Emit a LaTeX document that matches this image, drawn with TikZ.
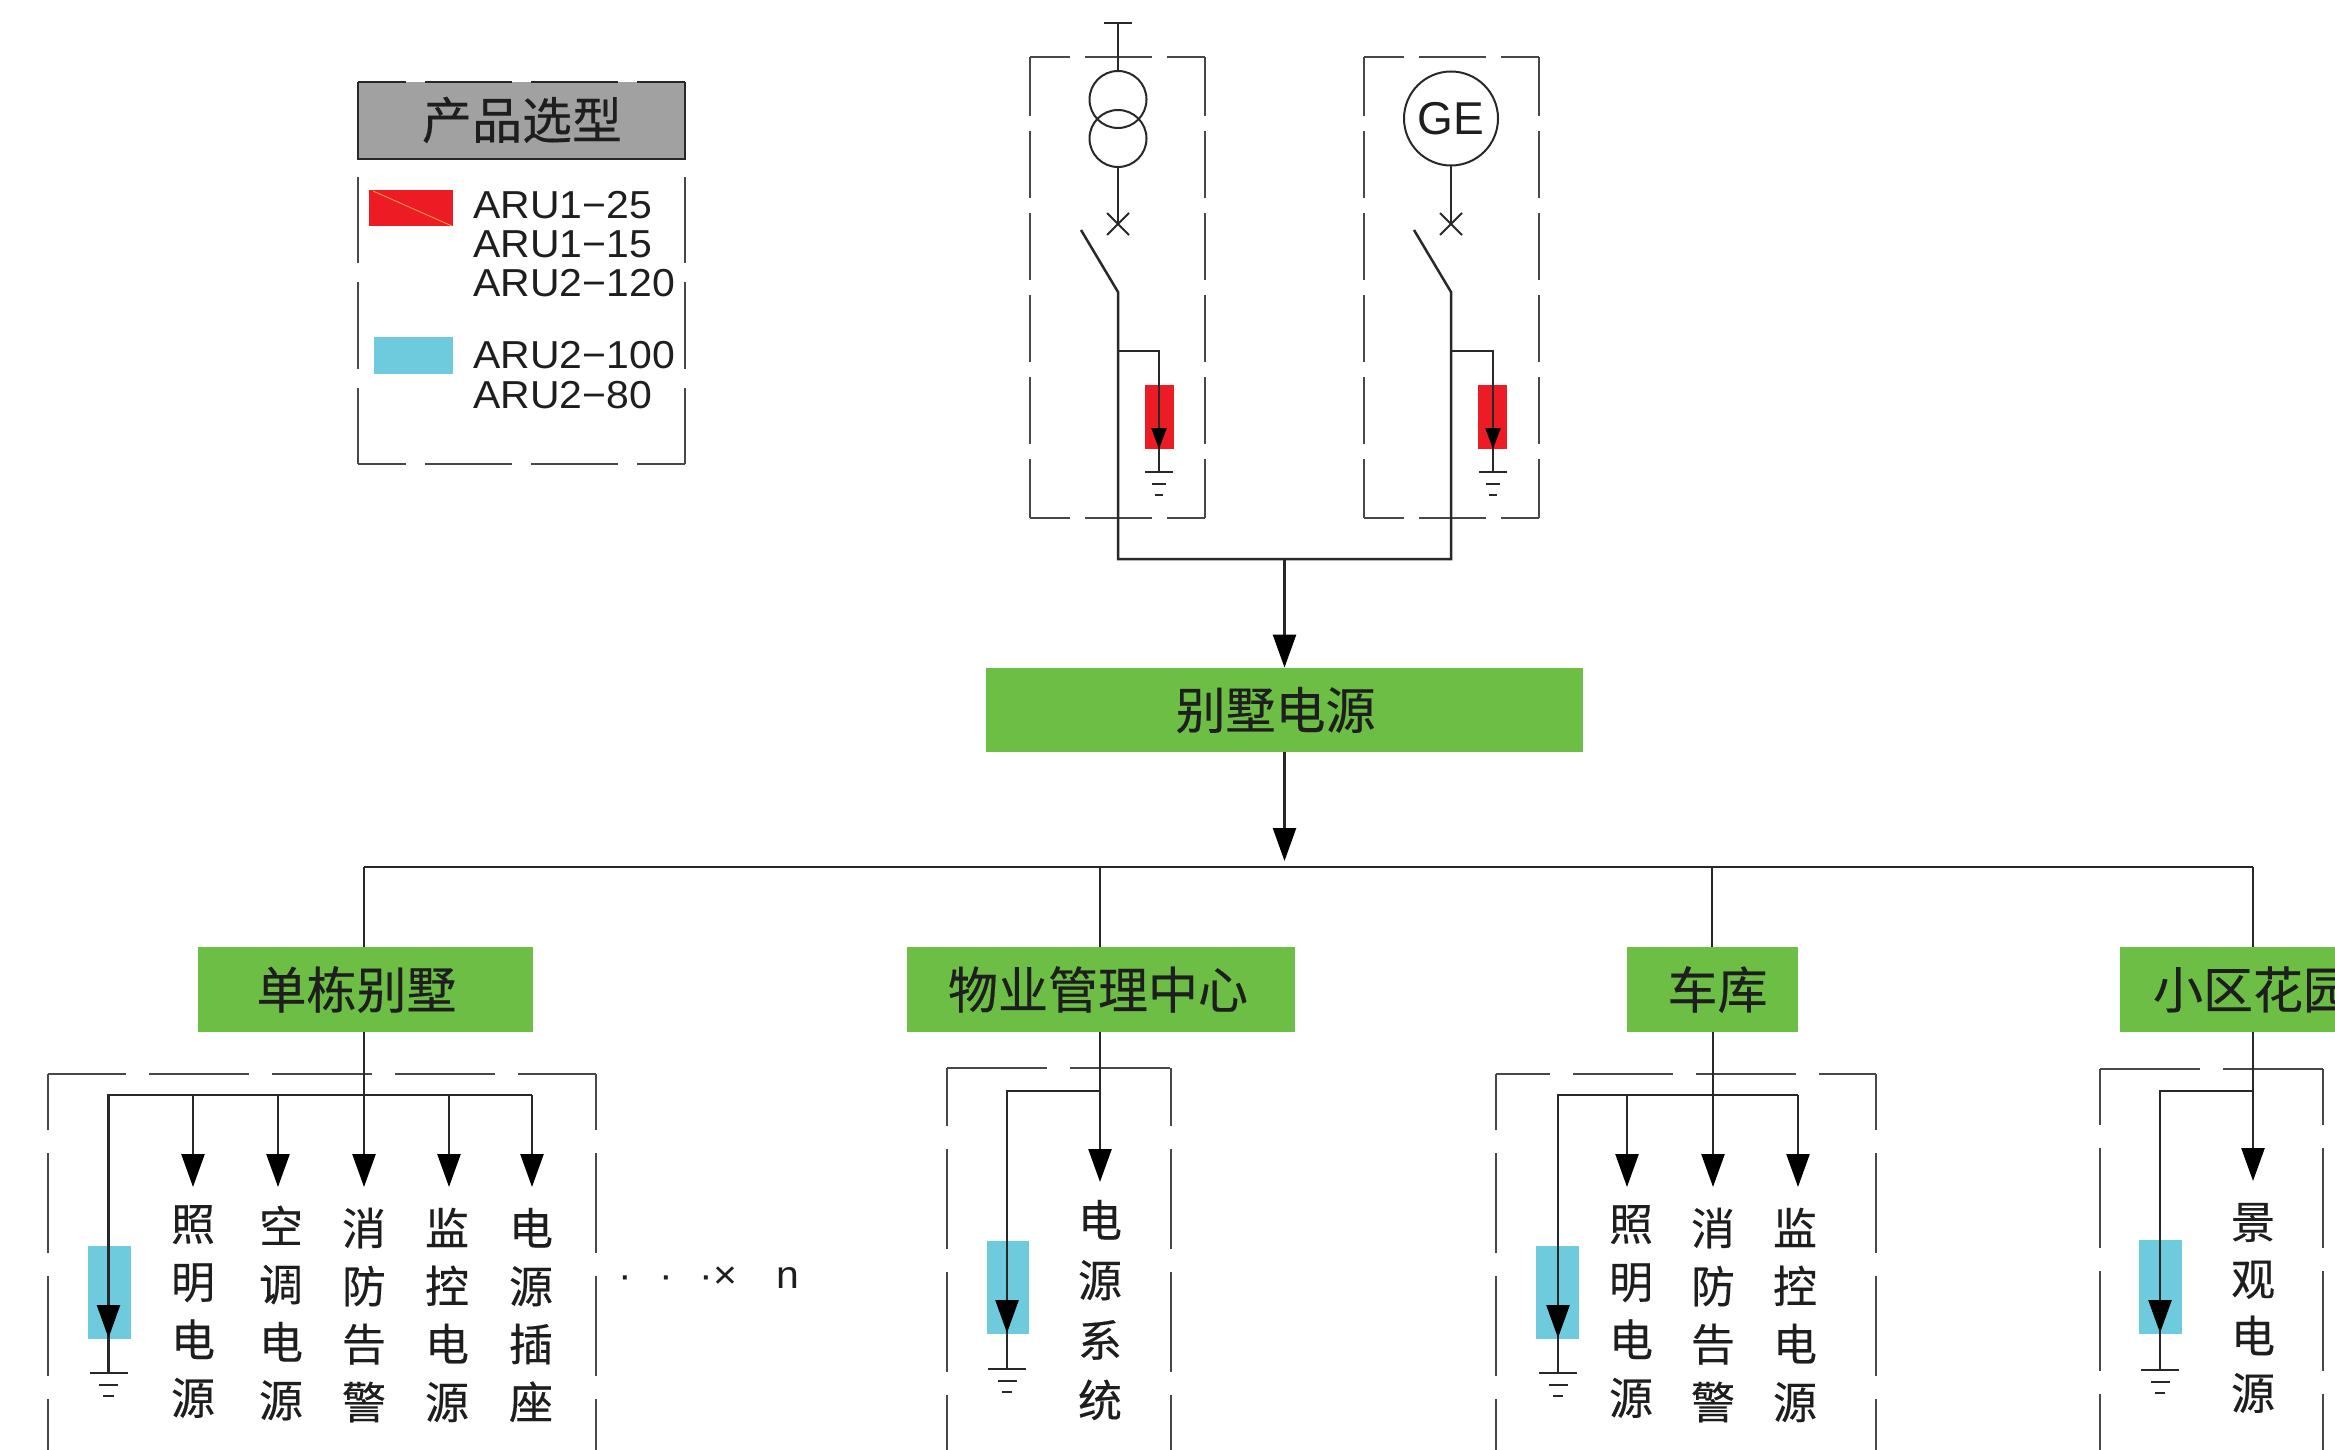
\documentclass[tikz,border=0pt]{standalone}
\usepackage{fontspec}
\usetikzlibrary{arrows.meta}
\newfontfamily\cjkf[FakeBold=0.35]{Noto Sans CJK SC}
\newfontfamily\latf[FakeStretch=1.05]{Liberation Sans}
\newfontfamily\gef{Liberation Sans}
\definecolor{grn}{RGB}{108,190,69}
\definecolor{redc}{RGB}{237,28,36}
\definecolor{bluc}{RGB}{109,203,221}
\definecolor{lin}{RGB}{40,40,40}
\definecolor{txt}{RGB}{30,30,30}
\tikzset{
  wire/.style={draw=lin,line width=1.25pt},
  wirea/.style={wire,-{Triangle[length=16.5pt,width=11.5pt,color=black]}},
  wiresm/.style={wire,-{Triangle[length=10.5pt,width=7.5pt,color=black]}},
  dashl/.style={draw=lin!85,line width=1pt},
  greenbox/.style={fill=grn,inner sep=0pt,font=\cjkf\fontsize{25pt}{25pt}\selectfont,text=txt},
  colt/.style={align=center,inner sep=0pt,text=txt,font=\cjkf\fontsize{22pt}{29pt}\selectfont},
  legt/.style={anchor=base west,inner sep=0pt,text=txt,font=\latf\fontsize{19.5pt}{20pt}\selectfont},
  ring/.style={draw=lin,circle,line width=1pt,inner sep=0pt},
  gbar/.style={draw=lin,line width=1pt},
}
% left,right,top,bottom,phase top,phase side: open dashed frame
\newcommand{\dframe}[6]{%
  \draw[dashl,dash pattern=on 50pt off 11.5pt,dash phase=#5pt] (#1,#3) -- (#2,#3);
  \draw[dashl,dash pattern=on 50pt off 11.5pt,dash phase=#6pt] (#1,#3) -- (#1,#4);
  \draw[dashl,dash pattern=on 50pt off 11.5pt,dash phase=#6pt] (#2,#3) -- (#2,#4);
}
% left,right: closed dashed panel at the top
\newcommand{\panelframe}[2]{%
  \draw[dashl,line width=1.2pt,dash pattern=on 33.5pt off 7.5pt,dash phase=13.5pt] (#1,57) -- (#2,57);
  \draw[dashl,line width=1.2pt,dash pattern=on 33.5pt off 7.5pt,dash phase=13.5pt] (#1,518) -- (#2,518);
  \draw[dashl,line width=1.2pt,dash pattern=on 33.5pt off 7.5pt,dash phase=4pt] (#1,57) -- (#1,518);
  \draw[dashl,line width=1.2pt,dash pattern=on 33.5pt off 7.5pt,dash phase=4pt] (#2,57) -- (#2,518);
}
% x, y, half width of top bar
\newcommand{\gndsym}[3]{%
  \draw[gbar] ({#1-#3},#2) -- ({#1+#3},#2);
  \draw[gbar] ({#1-0.5*#3},{#2+12}) -- ({#1+0.5*#3},{#2+12});
  \draw[gbar] ({#1-0.27*#3},{#2+23}) -- ({#1+0.27*#3},{#2+23});
}
\begin{document}
\begin{tikzpicture}[x=0.5pt,y=-0.5pt]
\useasboundingbox (0,0) rectangle (2335,1450);
\clip (0,0) rectangle (2335,1450);

% legend
\fill[black!37] (358,82) rectangle (685,159);
\draw[lin,line width=1.1pt] (358,82) -- (358,159) -- (685,159) -- (685,82);
\draw[lin,line width=1pt,dash pattern=on 43.5pt off 9.5pt,dash phase=19.5pt] (358,82) -- (685,82);
\node[inner sep=0pt,text=txt,font=\cjkf\fontsize{25pt}{25pt}\selectfont] (legtitle) at (522,120) {产品选型};
\draw[dashl,dash pattern=on 43.5pt off 9.5pt,dash phase=0.5pt] (358,177) -- (358,464);
\draw[dashl,dash pattern=on 43.5pt off 9.5pt,dash phase=0.5pt] (685,177) -- (685,464);
\draw[dashl,dash pattern=on 43.5pt off 9.5pt,dash phase=19.5pt] (358,464) -- (685,464);
\fill[redc] (369,190) rectangle (453,226);
\draw[orange!70!white,line width=0.4pt] (373,191) -- (452,226);
\fill[bluc] (374,337) rectangle (453,374);
\node[legt] (l1) at (473,218) {ARU1−25};
\node[legt] (l2) at (473,257) {ARU1−15};
\node[legt] (l3) at (473,296) {ARU2−120};
\node[legt] (l4) at (473,368) {ARU2−100};
\node[legt] (l5) at (473,408) {ARU2−80};

% incoming panels
\panelframe{1030}{1205}
\panelframe{1364}{1539}
\fill[redc] (1145,385) rectangle (1174,449);
\fill[redc] (1478,385) rectangle (1507,449);

\node[ring,minimum size=28.5pt] (tr1) at (1118,99.5) {};
\node[ring,minimum size=28.5pt] (tr2) at (1118,138.5) {};
\node[ring,minimum size=47pt,text=txt,font=\gef\fontsize{23pt}{23pt}\selectfont] (ge) at (1451,118.5) {GE};

\coordinate (tbar) at (1118,23);
\draw[wire] (1104,23) -- (1132,23);
\draw[wire] (tbar) -- (tr1.north);
\coordinate (brk1) at (1118,224);
\coordinate (brk2) at (1451,224);
\coordinate (piv1) at (1118,292);
\coordinate (piv2) at (1451,292);
\coordinate (tap1) at (1118,351);
\coordinate (tap2) at (1451,351);
\coordinate (jn1) at (1118,559);
\coordinate (jn2) at (1451,559);
\coordinate (jnc) at (1284.5,559);
\draw[wire] (tr2.south) -- (brk1);
\draw[wire] (ge.south) -- (brk2);
\foreach \p/\q in {1118/224,1451/224}{
  \draw[wire,line width=1pt] ({\p-11},{\q-11}) -- ({\p+11},{\q+11});
  \draw[wire,line width=1pt] ({\p-11},{\q+11}) -- ({\p+11},{\q-11});
}
\draw[wire] (1081,230) -- (piv1) -- (jn1) -- (jn2) -- (piv2) -- (1414,230);
\coordinate (a1) at (1159,449);
\coordinate (g1) at (1159,472);
\coordinate (a2) at (1493,449);
\coordinate (g2) at (1493,472);
\draw[wire,line width=1pt] (tap1) -| (g1);
\draw[wire,line width=1pt] (tap2) -| (g2);
\draw[wiresm] (1159,400) -- (a1);
\draw[wiresm] (1493,400) -- (a2);
\gndsym{1159}{472}{14}
\gndsym{1493}{472}{14}

% main
\node[greenbox,minimum width=298.5pt,minimum height=42pt] (main) at (1284.5,710) {\hspace*{-9pt}\raisebox{2pt}{别墅电源}};
\draw[wirea] (jnc) -- (main.north);
\coordinate (busa) at (1284.5,861);
\draw[wirea] (main.south) -- (busa);
\coordinate (b1) at (364,867);
\coordinate (b2) at (1100,867);
\coordinate (b3) at (1712,867);
\coordinate (b4) at (2253,867);
\draw[wire] (b1) -- (b4);

% sub boxes
\node[greenbox,minimum width=167.5pt,minimum height=42.5pt] (villa) at (365.5,989.5) {\hspace*{-9pt}\raisebox{0.5pt}{单栋别墅}};
\node[greenbox,minimum width=194pt,minimum height=42.5pt] (mgmt) at (1101,989.5) {\hspace*{-3pt}物业管理中心};
\node[greenbox,minimum width=85.5pt,minimum height=42.5pt] (gar) at (1712.5,989.5) {\hspace*{5pt}车库};
\node[greenbox,minimum width=215pt,minimum height=42.5pt,anchor=west] (park) at (2120,989.5) {};
\node[inner sep=0pt,text=txt,font=\cjkf\fontsize{25pt}{25pt}\selectfont] (parkt) at (2253,989.5) {小区花园};
\draw[wire] (b1) -- (364,947);
\draw[wire] (b2) -- (1100,947);
\draw[wire] (b3) -- (1712,947);
\draw[wire] (b4) -- (2253,947);

% frames
\dframe{48}{596}{1074}{1450}{11}{22}
\dframe{947}{1171}{1068}{1450}{0}{21}
\dframe{1496}{1876}{1074}{1450}{23}{22}
\dframe{2100}{2323}{1069}{1450}{0}{22}

% surge blocks
\fill[bluc] (88,1246) rectangle (131,1339);
\fill[bluc] (987,1241) rectangle (1029,1334);
\fill[bluc] (1536,1246) rectangle (1579,1339);
\fill[bluc] (2139,1240) rectangle (2182,1334);

% villa
\coordinate (vj) at (364,1095);
\draw[wire] (108.5,1373) -- (108.5,1095) -- (532,1095);
\draw[wirea] (108.5,1200) -- (108.5,1338);
\draw[wirea] (364,1032) -- (364,1187);
\draw[wirea] (193,1095) -- (193,1187);
\draw[wirea] (278,1095) -- (278,1187);
\draw[wirea] (449,1095) -- (449,1187);
\draw[wirea] (532,1095) -- (532,1187);
\gndsym{108.5}{1373}{19}
\node[colt] (v1) at (193,1311.5) {照\\明\\电\\源};
\node[colt] (v2) at (281,1313) {空\\调\\电\\源};
\node[colt] (v3) at (364,1315) {消\\防\\告\\警};
\node[colt] (v4) at (447,1315) {监\\控\\电\\源};
\node[colt] (v5) at (531,1315) {电\\源\\插\\座};
\node[inner sep=0pt,text=txt,anchor=base west,font=\latf\fontsize{19.5pt}{20pt}\selectfont] (vn) at (618,1288) {·\hspace{13.5pt}·\hspace{13.5pt}·×\hspace{19.5pt}n};

% management
\draw[wire] (1007,1369) -- (1007,1091) -- (1100,1091);
\draw[wirea] (1007,1200) -- (1007,1333);
\draw[wirea] (1100,1032) -- (1100,1182);
\gndsym{1007}{1369}{19}
\node[colt,font=\cjkf\fontsize{22pt}{30pt}\selectfont] (m1) at (1100,1310) {电\\源\\系\\统};

% garage
\draw[wire] (1558,1373) -- (1558,1095) -- (1798,1095);
\draw[wirea] (1558,1200) -- (1558,1338);
\draw[wirea] (1713,1032) -- (1713,1187);
\draw[wirea] (1627,1095) -- (1627,1187);
\draw[wirea] (1798,1095) -- (1798,1187);
\gndsym{1558}{1373}{19}
\node[colt] (g1t) at (1631,1311.5) {照\\明\\电\\源};
\node[colt] (g2t) at (1713,1315) {消\\防\\告\\警};
\node[colt] (g3t) at (1795,1315) {监\\控\\电\\源};

% garden
\draw[wire] (2160,1370) -- (2160,1091) -- (2253,1091);
\draw[wirea] (2160,1200) -- (2160,1333);
\draw[wirea] (2253,1032) -- (2253,1181);
\gndsym{2160}{1370}{19}
\node[colt,font=\cjkf\fontsize{22pt}{28.5pt}\selectfont] (p1) at (2253,1308) {景\\观\\电\\源};
\end{tikzpicture}
\end{document}
